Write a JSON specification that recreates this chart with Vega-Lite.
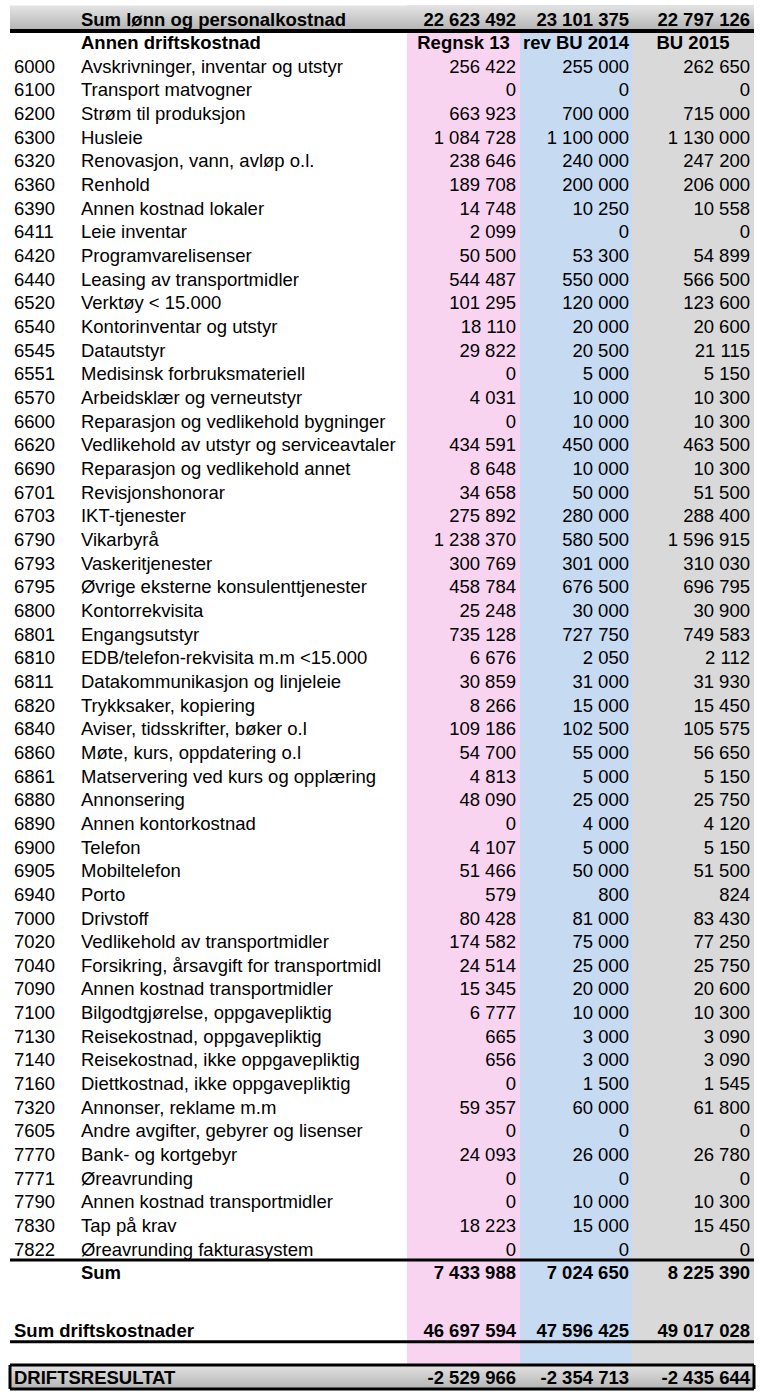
{
  "$schema": "https://vega.github.io/schema/vega-lite/v6.json",
  "padding": {"left": 8, "top": 5, "right": 0, "bottom": 0},
  "bounds": "flush",
  "spacing": 0,
  "background": "white",
  "data": {"values": [
    {"row": 0, "kind": "top", "navn": "Sum lønn og personalkostnad", "a": 22623492, "b": 23101375, "c": 22797126},
    {"row": 1, "kind": "head", "navn": "Annen driftskostnad", "ka": "Regnsk 13", "kb": "rev BU 2014", "kc": "BU 2015"},
    {"row": 2, "kind": "item", "kode": "6000", "navn": "Avskrivninger, inventar og utstyr", "a": 256422, "b": 255000, "c": 262650},
    {"row": 3, "kind": "item", "kode": "6100", "navn": "Transport matvogner", "a": 0, "b": 0, "c": 0},
    {"row": 4, "kind": "item", "kode": "6200", "navn": "Strøm til produksjon", "a": 663923, "b": 700000, "c": 715000},
    {"row": 5, "kind": "item", "kode": "6300", "navn": "Husleie", "a": 1084728, "b": 1100000, "c": 1130000},
    {"row": 6, "kind": "item", "kode": "6320", "navn": "Renovasjon, vann, avløp o.l.", "a": 238646, "b": 240000, "c": 247200},
    {"row": 7, "kind": "item", "kode": "6360", "navn": "Renhold", "a": 189708, "b": 200000, "c": 206000},
    {"row": 8, "kind": "item", "kode": "6390", "navn": "Annen kostnad lokaler", "a": 14748, "b": 10250, "c": 10558},
    {"row": 9, "kind": "item", "kode": "6411", "navn": "Leie inventar", "a": 2099, "b": 0, "c": 0},
    {"row": 10, "kind": "item", "kode": "6420", "navn": "Programvarelisenser", "a": 50500, "b": 53300, "c": 54899},
    {"row": 11, "kind": "item", "kode": "6440", "navn": "Leasing av transportmidler", "a": 544487, "b": 550000, "c": 566500},
    {"row": 12, "kind": "item", "kode": "6520", "navn": "Verktøy < 15.000", "a": 101295, "b": 120000, "c": 123600},
    {"row": 13, "kind": "item", "kode": "6540", "navn": "Kontorinventar og utstyr", "a": 18110, "b": 20000, "c": 20600},
    {"row": 14, "kind": "item", "kode": "6545", "navn": "Datautstyr", "a": 29822, "b": 20500, "c": 21115},
    {"row": 15, "kind": "item", "kode": "6551", "navn": "Medisinsk forbruksmateriell", "a": 0, "b": 5000, "c": 5150},
    {"row": 16, "kind": "item", "kode": "6570", "navn": "Arbeidsklær og verneutstyr", "a": 4031, "b": 10000, "c": 10300},
    {"row": 17, "kind": "item", "kode": "6600", "navn": "Reparasjon og vedlikehold bygninger", "a": 0, "b": 10000, "c": 10300},
    {"row": 18, "kind": "item", "kode": "6620", "navn": "Vedlikehold av utstyr og serviceavtaler", "a": 434591, "b": 450000, "c": 463500},
    {"row": 19, "kind": "item", "kode": "6690", "navn": "Reparasjon og vedlikehold annet", "a": 8648, "b": 10000, "c": 10300},
    {"row": 20, "kind": "item", "kode": "6701", "navn": "Revisjonshonorar", "a": 34658, "b": 50000, "c": 51500},
    {"row": 21, "kind": "item", "kode": "6703", "navn": "IKT-tjenester", "a": 275892, "b": 280000, "c": 288400},
    {"row": 22, "kind": "item", "kode": "6790", "navn": "Vikarbyrå", "a": 1238370, "b": 580500, "c": 1596915},
    {"row": 23, "kind": "item", "kode": "6793", "navn": "Vaskeritjenester", "a": 300769, "b": 301000, "c": 310030},
    {"row": 24, "kind": "item", "kode": "6795", "navn": "Øvrige eksterne konsulenttjenester", "a": 458784, "b": 676500, "c": 696795},
    {"row": 25, "kind": "item", "kode": "6800", "navn": "Kontorrekvisita", "a": 25248, "b": 30000, "c": 30900},
    {"row": 26, "kind": "item", "kode": "6801", "navn": "Engangsutstyr", "a": 735128, "b": 727750, "c": 749583},
    {"row": 27, "kind": "item", "kode": "6810", "navn": "EDB/telefon-rekvisita m.m <15.000", "a": 6676, "b": 2050, "c": 2112},
    {"row": 28, "kind": "item", "kode": "6811", "navn": "Datakommunikasjon og linjeleie", "a": 30859, "b": 31000, "c": 31930},
    {"row": 29, "kind": "item", "kode": "6820", "navn": "Trykksaker, kopiering", "a": 8266, "b": 15000, "c": 15450},
    {"row": 30, "kind": "item", "kode": "6840", "navn": "Aviser, tidsskrifter, bøker o.l", "a": 109186, "b": 102500, "c": 105575},
    {"row": 31, "kind": "item", "kode": "6860", "navn": "Møte, kurs, oppdatering o.l", "a": 54700, "b": 55000, "c": 56650},
    {"row": 32, "kind": "item", "kode": "6861", "navn": "Matservering ved kurs og opplæring", "a": 4813, "b": 5000, "c": 5150},
    {"row": 33, "kind": "item", "kode": "6880", "navn": "Annonsering", "a": 48090, "b": 25000, "c": 25750},
    {"row": 34, "kind": "item", "kode": "6890", "navn": "Annen kontorkostnad", "a": 0, "b": 4000, "c": 4120},
    {"row": 35, "kind": "item", "kode": "6900", "navn": "Telefon", "a": 4107, "b": 5000, "c": 5150},
    {"row": 36, "kind": "item", "kode": "6905", "navn": "Mobiltelefon", "a": 51466, "b": 50000, "c": 51500},
    {"row": 37, "kind": "item", "kode": "6940", "navn": "Porto", "a": 579, "b": 800, "c": 824},
    {"row": 38, "kind": "item", "kode": "7000", "navn": "Drivstoff", "a": 80428, "b": 81000, "c": 83430},
    {"row": 39, "kind": "item", "kode": "7020", "navn": "Vedlikehold av transportmidler", "a": 174582, "b": 75000, "c": 77250},
    {"row": 40, "kind": "item", "kode": "7040", "navn": "Forsikring, årsavgift for transportmidl", "a": 24514, "b": 25000, "c": 25750},
    {"row": 41, "kind": "item", "kode": "7090", "navn": "Annen kostnad transportmidler", "a": 15345, "b": 20000, "c": 20600},
    {"row": 42, "kind": "item", "kode": "7100", "navn": "Bilgodtgjørelse, oppgavepliktig", "a": 6777, "b": 10000, "c": 10300},
    {"row": 43, "kind": "item", "kode": "7130", "navn": "Reisekostnad, oppgavepliktig", "a": 665, "b": 3000, "c": 3090},
    {"row": 44, "kind": "item", "kode": "7140", "navn": "Reisekostnad, ikke oppgavepliktig", "a": 656, "b": 3000, "c": 3090},
    {"row": 45, "kind": "item", "kode": "7160", "navn": "Diettkostnad, ikke oppgavepliktig", "a": 0, "b": 1500, "c": 1545},
    {"row": 46, "kind": "item", "kode": "7320", "navn": "Annonser, reklame m.m", "a": 59357, "b": 60000, "c": 61800},
    {"row": 47, "kind": "item", "kode": "7605", "navn": "Andre avgifter, gebyrer og lisenser", "a": 0, "b": 0, "c": 0},
    {"row": 48, "kind": "item", "kode": "7770", "navn": "Bank- og kortgebyr", "a": 24093, "b": 26000, "c": 26780},
    {"row": 49, "kind": "item", "kode": "7771", "navn": "Øreavrunding", "a": 0, "b": 0, "c": 0},
    {"row": 50, "kind": "item", "kode": "7790", "navn": "Annen kostnad transportmidler", "a": 0, "b": 10000, "c": 10300},
    {"row": 51, "kind": "item", "kode": "7830", "navn": "Tap på krav", "a": 18223, "b": 15000, "c": 15450},
    {"row": 52, "kind": "item", "kode": "7822", "navn": "Øreavrunding fakturasystem", "a": 0, "b": 0, "c": 0},
    {"row": 53, "kind": "sum", "navn": "Sum", "a": 7433988, "b": 7024650, "c": 8225390},
    {"row": 55.45, "kind": "total", "kode": "Sum driftskostnader", "a": 46697594, "b": 47596425, "c": 49017028},
    {"row": 57.44, "kind": "result", "kode": "DRIFTSRESULTAT", "a": -2529966, "b": -2354713, "c": -2435644}
  ]},
  "hconcat": [
    {
      "width": 397, "height": 1384,
      "view": {"stroke": null, "fill": "white"},
      "encoding": {"y": {"field": "row", "type": "quantitative", "scale": {"domain": [-0.55, 57.95], "reverse": true, "nice": false, "zero": false}, "axis": null}},
      "layer": [
        {"transform": [{"filter": {"field": "kind", "oneOf": ["top", "result"]}}], "mark": {"type": "rect", "yOffset": -12.5, "y2Offset": 12, "fill": {"gradient": "linear", "x1": 0, "y1": 0, "x2": 0, "y2": 1, "stops": [{"offset": 0, "color": "#e4e4e4"}, {"offset": 1, "color": "#b4b4b4"}]}}, "encoding": {"y2": {"field": "row"}}},
        {"transform": [{"filter": {"field": "kind", "oneOf": ["top"]}}], "mark": {"type": "rule", "yOffset": 13, "strokeWidth": 4, "color": "black"}, "encoding": {}},
        {"transform": [{"filter": {"field": "kind", "oneOf": ["total", "result"]}}], "mark": {"type": "rule", "yOffset": 12, "strokeWidth": 3, "color": "black"}, "encoding": {}},
        {"transform": [{"filter": {"field": "kind", "oneOf": ["sum", "result"]}}], "mark": {"type": "rule", "yOffset": -12, "strokeWidth": 3, "color": "black"}, "encoding": {}},
        {"transform": [{"filter": {"field": "kind", "oneOf": ["result"]}}], "mark": {"type": "rule", "yOffset": -12, "y2Offset": 12, "strokeWidth": 3, "color": "black"}, "encoding": {"x": {"datum": 0, "type": "quantitative", "scale": {"domain": [0, 1]}, "axis": null}, "y2": {"field": "row"}}},
        {"transform": [{"filter": {"field": "kind", "oneOf": ["item"]}}], "mark": {"type": "text", "align": "left", "dx": 4}, "encoding": {"x": {"datum": 0, "type": "quantitative", "scale": {"domain": [0, 1]}, "axis": null}, "text": {"field": "kode"}}},
        {"transform": [{"filter": {"field": "kind", "oneOf": ["total", "result"]}}], "mark": {"type": "text", "align": "left", "dx": 4, "fontWeight": "bold"}, "encoding": {"x": {"datum": 0, "type": "quantitative", "scale": {"domain": [0, 1]}, "axis": null}, "text": {"field": "kode"}}},
        {"transform": [{"filter": {"field": "kind", "oneOf": ["item"]}}], "mark": {"type": "text", "align": "left"}, "encoding": {"x": {"datum": 0.1788, "type": "quantitative", "scale": {"domain": [0, 1]}, "axis": null}, "text": {"field": "navn"}}},
        {"transform": [{"filter": {"field": "kind", "oneOf": ["top", "head", "sum"]}}], "mark": {"type": "text", "align": "left", "fontWeight": "bold"}, "encoding": {"x": {"datum": 0.1788, "type": "quantitative", "scale": {"domain": [0, 1]}, "axis": null}, "text": {"field": "navn"}}}
      ]
    },
    {
      "width": 113, "height": 1384,
      "view": {"stroke": null, "fill": "#f9d4f0"},
      "encoding": {"y": {"field": "row", "type": "quantitative", "scale": {"domain": [-0.55, 57.95], "reverse": true, "nice": false, "zero": false}, "axis": null}},
      "layer": [
        {"transform": [{"filter": {"field": "kind", "oneOf": ["top", "result"]}}], "mark": {"type": "rect", "yOffset": -12.5, "y2Offset": 12, "fill": {"gradient": "linear", "x1": 0, "y1": 0, "x2": 0, "y2": 1, "stops": [{"offset": 0, "color": "#e4e4e4"}, {"offset": 1, "color": "#b4b4b4"}]}}, "encoding": {"y2": {"field": "row"}}},
        {"transform": [{"filter": {"field": "kind", "oneOf": ["top"]}}], "mark": {"type": "rule", "yOffset": 13, "strokeWidth": 4, "color": "black"}, "encoding": {}},
        {"transform": [{"filter": {"field": "kind", "oneOf": ["total", "result"]}}], "mark": {"type": "rule", "yOffset": 12, "strokeWidth": 3, "color": "black"}, "encoding": {}},
        {"transform": [{"filter": {"field": "kind", "oneOf": ["sum", "result"]}}], "mark": {"type": "rule", "yOffset": -12, "strokeWidth": 3, "color": "black"}, "encoding": {}},
        {"transform": [{"filter": {"field": "kind", "oneOf": ["item"]}}], "mark": {"type": "text", "align": "right", "dx": -4}, "encoding": {"x": {"datum": 1, "type": "quantitative", "scale": {"domain": [0, 1]}, "axis": null}, "text": {"field": "a", "type": "quantitative", "format": ",.0f"}}},
        {"transform": [{"filter": {"field": "kind", "oneOf": ["top", "sum", "total", "result"]}}], "mark": {"type": "text", "align": "right", "dx": -4, "fontWeight": "bold"}, "encoding": {"x": {"datum": 1, "type": "quantitative", "scale": {"domain": [0, 1]}, "axis": null}, "text": {"field": "a", "type": "quantitative", "format": ",.0f"}}},
        {"transform": [{"filter": {"field": "kind", "oneOf": ["head"]}}], "mark": {"type": "text", "align": "center", "fontWeight": "bold"}, "encoding": {"x": {"datum": 0.5, "type": "quantitative", "scale": {"domain": [0, 1]}, "axis": null}, "text": {"field": "ka"}}}
      ]
    },
    {
      "width": 112, "height": 1384,
      "view": {"stroke": null, "fill": "#c6daf2"},
      "encoding": {"y": {"field": "row", "type": "quantitative", "scale": {"domain": [-0.55, 57.95], "reverse": true, "nice": false, "zero": false}, "axis": null}},
      "layer": [
        {"transform": [{"filter": {"field": "kind", "oneOf": ["top", "result"]}}], "mark": {"type": "rect", "yOffset": -12.5, "y2Offset": 12, "fill": {"gradient": "linear", "x1": 0, "y1": 0, "x2": 0, "y2": 1, "stops": [{"offset": 0, "color": "#e4e4e4"}, {"offset": 1, "color": "#b4b4b4"}]}}, "encoding": {"y2": {"field": "row"}}},
        {"transform": [{"filter": {"field": "kind", "oneOf": ["top"]}}], "mark": {"type": "rule", "yOffset": 13, "strokeWidth": 4, "color": "black"}, "encoding": {}},
        {"transform": [{"filter": {"field": "kind", "oneOf": ["total", "result"]}}], "mark": {"type": "rule", "yOffset": 12, "strokeWidth": 3, "color": "black"}, "encoding": {}},
        {"transform": [{"filter": {"field": "kind", "oneOf": ["sum", "result"]}}], "mark": {"type": "rule", "yOffset": -12, "strokeWidth": 3, "color": "black"}, "encoding": {}},
        {"transform": [{"filter": {"field": "kind", "oneOf": ["item"]}}], "mark": {"type": "text", "align": "right", "dx": -3}, "encoding": {"x": {"datum": 1, "type": "quantitative", "scale": {"domain": [0, 1]}, "axis": null}, "text": {"field": "b", "type": "quantitative", "format": ",.0f"}}},
        {"transform": [{"filter": {"field": "kind", "oneOf": ["top", "sum", "total", "result"]}}], "mark": {"type": "text", "align": "right", "dx": -3, "fontWeight": "bold"}, "encoding": {"x": {"datum": 1, "type": "quantitative", "scale": {"domain": [0, 1]}, "axis": null}, "text": {"field": "b", "type": "quantitative", "format": ",.0f"}}},
        {"transform": [{"filter": {"field": "kind", "oneOf": ["head"]}}], "mark": {"type": "text", "align": "center", "fontWeight": "bold"}, "encoding": {"x": {"datum": 0.5, "type": "quantitative", "scale": {"domain": [0, 1]}, "axis": null}, "text": {"field": "kb"}}}
      ]
    },
    {
      "width": 122, "height": 1384,
      "view": {"stroke": null, "fill": "#d9d9d9"},
      "encoding": {"y": {"field": "row", "type": "quantitative", "scale": {"domain": [-0.55, 57.95], "reverse": true, "nice": false, "zero": false}, "axis": null}},
      "layer": [
        {"transform": [{"filter": {"field": "kind", "oneOf": ["top", "result"]}}], "mark": {"type": "rect", "yOffset": -12.5, "y2Offset": 12, "fill": {"gradient": "linear", "x1": 0, "y1": 0, "x2": 0, "y2": 1, "stops": [{"offset": 0, "color": "#e4e4e4"}, {"offset": 1, "color": "#b4b4b4"}]}}, "encoding": {"y2": {"field": "row"}}},
        {"transform": [{"filter": {"field": "kind", "oneOf": ["top"]}}], "mark": {"type": "rule", "yOffset": 13, "strokeWidth": 4, "color": "black"}, "encoding": {}},
        {"transform": [{"filter": {"field": "kind", "oneOf": ["total", "result"]}}], "mark": {"type": "rule", "yOffset": 12, "strokeWidth": 3, "color": "black"}, "encoding": {}},
        {"transform": [{"filter": {"field": "kind", "oneOf": ["sum", "result"]}}], "mark": {"type": "rule", "yOffset": -12, "strokeWidth": 3, "color": "black"}, "encoding": {}},
        {"transform": [{"filter": {"field": "kind", "oneOf": ["result"]}}], "mark": {"type": "rule", "yOffset": -12, "y2Offset": 12, "strokeWidth": 3, "color": "black"}, "encoding": {"x": {"datum": 1, "type": "quantitative", "scale": {"domain": [0, 1]}, "axis": null}, "y2": {"field": "row"}}},
        {"transform": [{"filter": {"field": "kind", "oneOf": ["item"]}}], "mark": {"type": "text", "align": "right", "dx": -4}, "encoding": {"x": {"datum": 1, "type": "quantitative", "scale": {"domain": [0, 1]}, "axis": null}, "text": {"field": "c", "type": "quantitative", "format": ",.0f"}}},
        {"transform": [{"filter": {"field": "kind", "oneOf": ["top", "sum", "total", "result"]}}], "mark": {"type": "text", "align": "right", "dx": -4, "fontWeight": "bold"}, "encoding": {"x": {"datum": 1, "type": "quantitative", "scale": {"domain": [0, 1]}, "axis": null}, "text": {"field": "c", "type": "quantitative", "format": ",.0f"}}},
        {"transform": [{"filter": {"field": "kind", "oneOf": ["head"]}}], "mark": {"type": "text", "align": "center", "fontWeight": "bold"}, "encoding": {"x": {"datum": 0.5, "type": "quantitative", "scale": {"domain": [0, 1]}, "axis": null}, "text": {"field": "kc"}}}
      ]
    }
  ],
  "config": {
    "view": {"stroke": null},
    "concat": {"spacing": 0},
    "text": {"font": "Liberation Sans", "fontSize": 18.5, "baseline": "middle", "color": "black", "dy": 1.5},
    "locale": {"number": {"decimal": ",", "thousands": " ", "grouping": [3], "currency": ["", " kr"], "minus": "-"}}
  }
}
